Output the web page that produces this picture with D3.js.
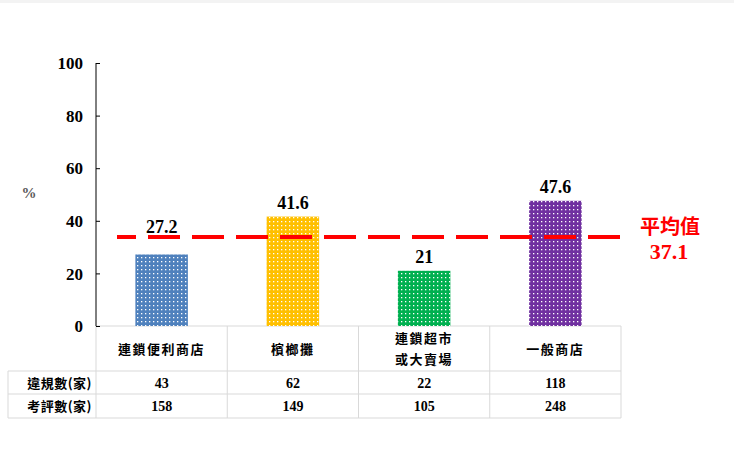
<!DOCTYPE html>
<html><head><meta charset="utf-8">
<script src="https://cdn.jsdelivr.net/npm/d3@7/dist/d3.min.js"></script>
<style>
html,body{margin:0;padding:0;background:#fff;}
svg{display:block;}
</style></head>
<body>
<svg id="chart" width="734" height="452"></svg>
<script>
const categories = [["連鎖便利商店"], ["檳榔攤"], ["連鎖超市", "或大賣場"], ["一般商店"]];
const rates = [27.2, 41.6, 21, 47.6];
const barColors = ["#4f81bd", "#ffc000", "#00b050", "#7030a0"];
const rowHeaders = ["違規數(家)", "考評數(家)"];
const violations = [43, 62, 22, 118];
const inspections = [158, 149, 105, 248];
const yTicks = [0, 20, 40, 60, 80, 100];
const avgValue = 37.1;
const avgLineLevel = 33.8; // where the dashed line sits in the picture
const avgTitle = "平均值";

const svg = d3.select("#chart");
const serif = "'Liberation Serif','Times New Roman',serif";
const cjk = "'Noto Sans CJK TC','Noto Sans CJK SC',sans-serif";

svg.append("rect").attr("x",0).attr("y",0).attr("width",734).attr("height",3).attr("fill","#f3f3f3");

const pL = 96, pR = 621, pT = 63, pB = 326;
const x = d3.scaleBand().domain(d3.range(categories.length)).range([pL, pR]);
const y = d3.scaleLinear().domain([0, 100]).range([pB, pT]);

// patterns
const defs = svg.append("defs");
barColors.forEach((c, i) => {
  const p = defs.append("pattern").attr("id", "pat" + i).attr("patternUnits", "userSpaceOnUse")
    .attr("width", 4).attr("height", 4);
  p.append("rect").attr("width", 4).attr("height", 4).attr("fill", c);
  p.append("rect").attr("x", 1).attr("y", 1).attr("width", 1.3).attr("height", 1.3).attr("fill", "#fff");
});

// table grid
const grid = "#d9d9d9";
const rowY = [326, 371, 394, 418];
const g = svg.append("g");
g.append("line").attr("x1", pL).attr("x2", pR).attr("y1", rowY[0]).attr("y2", rowY[0]).attr("stroke", grid);
[rowY[1], rowY[2], rowY[3]].forEach(v => g.append("line").attr("x1", 8).attr("x2", pR).attr("y1", v).attr("y2", v).attr("stroke", grid));
g.append("line").attr("x1", 8).attr("x2", 8).attr("y1", rowY[1]).attr("y2", rowY[3]).attr("stroke", grid);
d3.range(categories.length + 1).forEach(i => {
  const xv = pL + i * x.bandwidth();
  g.append("line").attr("x1", xv).attr("x2", xv).attr("y1", rowY[0]).attr("y2", rowY[3]).attr("stroke", grid);
});

// bars
const bw = x.bandwidth() * 0.4;
svg.append("g").selectAll("rect").data(rates).join("rect")
  .attr("x", (d, i) => x(i) + (x.bandwidth() - bw) / 2)
  .attr("y", d => y(d))
  .attr("width", bw)
  .attr("height", d => y(0) - y(d))
  .attr("fill", (d, i) => `url(#pat${i})`);

// y axis
const axis = d3.axisLeft(y).tickValues(yTicks).tickSize(-4).tickPadding(13);
const ag = svg.append("g").attr("transform", `translate(${pL},0)`).call(axis);
ag.select(".domain").attr("stroke", "#000").attr("d", `M0,${pT}V${pB}`);
ag.selectAll(".tick line").attr("stroke", "#000").attr("x2", 4);
ag.selectAll(".tick text").attr("font-family", serif).attr("font-weight", "bold").attr("font-size", 17).attr("fill", "#000").attr("dy", "0.33em");

svg.append("text").attr("x", 29).attr("y", 198).attr("text-anchor", "middle")
  .attr("font-family", serif).attr("font-weight", "bold").attr("font-size", 15).attr("fill", "#595959").text("%");

// average dashed line
const avgY = y(avgLineLevel);
svg.append("line").attr("x1", 117).attr("x2", 620).attr("y1", avgY).attr("y2", avgY)
  .attr("stroke", "#ff0000").attr("stroke-width", 4).attr("stroke-dasharray", "32,12").attr("stroke-dashoffset", 13);

// value labels
svg.append("g").selectAll("text").data(rates).join("text")
  .attr("x", (d, i) => x(i) + x.bandwidth() / 2)
  .attr("y", d => {
    let b = y(d) - 8;
    if (b > avgY - 4 && b - 12 < avgY + 3) b = avgY - 4;
    return b;
  })
  .attr("text-anchor", "middle").attr("font-family", serif).attr("font-weight", "bold")
  .attr("font-size", 18).attr("fill", "#000").text(d => d);

// average label
svg.append("text").attr("x", 670).attr("y", 234).attr("text-anchor", "middle")
  .attr("font-family", cjk).attr("font-weight", "bold").attr("font-size", 20).attr("fill", "#ff0000").text(avgTitle);
svg.append("text").attr("x", 669).attr("y", 259).attr("text-anchor", "middle")
  .attr("font-family", serif).attr("font-weight", "bold").attr("font-size", 22).attr("fill", "#ff0000").text(avgValue);

// category labels
categories.forEach((lines, i) => {
  const cx = x(i) + x.bandwidth() / 2;
  const mid = (rowY[0] + rowY[1]) / 2;
  lines.forEach((t, j) => {
    const yy = mid + (j - (lines.length - 1) / 2) * 21 + 5;
    svg.append("text").attr("x", cx).attr("y", yy).attr("text-anchor", "middle")
      .attr("font-family", cjk).attr("font-weight", "bold").attr("font-size", 13)
      .attr("letter-spacing", 1.5).attr("fill", "#000").text(t);
  });
});

// table rows
const rows = [violations, inspections];
rows.forEach((vals, r) => {
  const cy = (rowY[r + 1] + rowY[r + 2]) / 2 + 5;
  svg.append("text").attr("x", 92).attr("y", cy).attr("text-anchor", "end")
    .attr("font-family", cjk).attr("font-weight", "bold").attr("font-size", 13)
    .attr("letter-spacing", 0.5).attr("fill", "#000").text(rowHeaders[r]);
  vals.forEach((v, i) => {
    svg.append("text").attr("x", x(i) + x.bandwidth() / 2).attr("y", cy).attr("text-anchor", "middle")
      .attr("font-family", serif).attr("font-weight", "bold").attr("font-size", 14)
      .attr("fill", "#000").text(v);
  });
});
</script>
</body></html>
